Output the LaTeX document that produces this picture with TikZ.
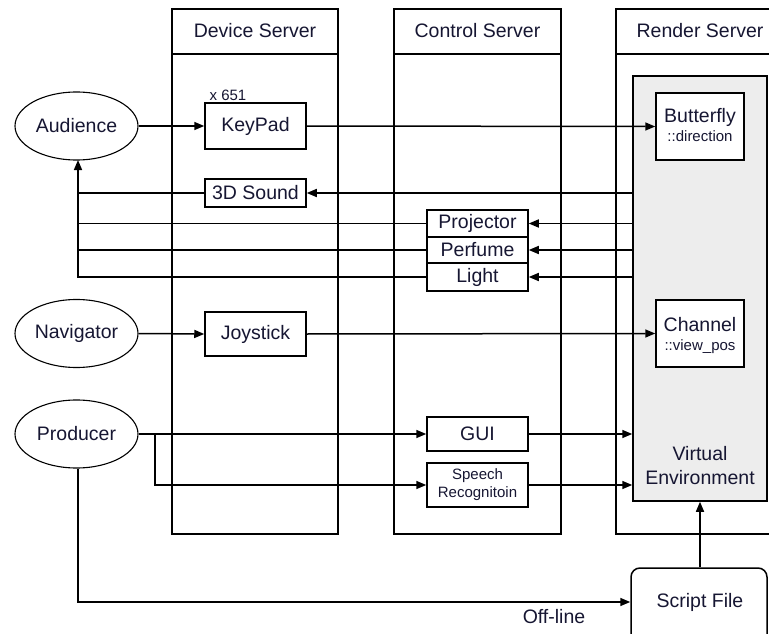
\documentclass[tikz,border=0pt]{standalone}
\usepackage{fontspec}
\setmainfont{Liberation Sans}
\usetikzlibrary{arrows.meta,shapes.geometric}
\definecolor{ink}{RGB}{22,22,50}
\definecolor{vefill}{RGB}{237,237,237}
\tikzset{
  base/.style={font=\fontsize{19.5}{24}\selectfont, text=ink, inner sep=0pt},
  small/.style={font=\fontsize{15}{18}\selectfont, text=ink, inner sep=0pt},
  box/.style={draw, line width=1.5pt, fill=white, base},
  actor/.style={draw, ellipse, line width=1.1pt, base, minimum width=123pt, minimum height=68pt},
  colframe/.style={draw, line width=1.5pt},
  link/.style={line width=1.5pt},
  arr/.style={link, -{Triangle[length=10pt,width=8pt]}},
}
\begin{document}
\begin{tikzpicture}[x=1pt,y=-1pt]
\useasboundingbox (0,0) rectangle (769,634);
\begin{scope}
\clip (0,0) rectangle (769,634);

% server columns with headers
\draw[colframe] (172,9) rectangle (338,534);
\draw[colframe] (172,54) -- (338,54);
\node[base] (devhdr) at (255,31) {Device Server};
\draw[colframe] (394,9) rectangle (561,534);
\draw[colframe] (394,54) -- (561,54);
\node[base] (ctlhdr) at (477.5,31) {Control Server};
\draw[colframe] (616,9) rectangle (784,534);
\draw[colframe] (616,54) -- (784,54);
\node[base] (renhdr) at (700,31) {Render Server};

% virtual environment region
\node[draw, line width=1.5pt, fill=vefill, minimum width=134pt, minimum height=425pt, inner sep=0pt] (ve) at (700,288.5) {};
\node[base, align=center] (velbl) at (700,466) {Virtual\\Environment};
\node[box, minimum width=88pt, minimum height=67pt] (bfly) at (700,126.5) {};
\node[base] (bflyt) at (700,117) {Butterfly};
\node[small] (bflys) at (700,136) {::direction};
\node[box, minimum width=88pt, minimum height=67pt] (chan) at (700,333.5) {};
\node[base] (chant) at (700,325) {Channel};
\node[small] (chans) at (700,347) {::view\_pos};

% script file
\node[draw, line width=1.5pt, rounded corners=9pt, fill=white, minimum width=136pt, minimum height=82pt, inner sep=0pt] (script) at (699,609) {};
\node[base] (scriptt) at (700,602) {Script File};
\end{scope}

% actors
\node[actor] (aud) at (76.5,126) {Audience};
\node[actor] (nav) at (76.5,333.5) {Navigator};
\node[actor] (prod) at (76.5,434) {Producer};

% device server
\node[box, minimum width=101pt, minimum height=46pt] (keypad) at (255.5,126) {KeyPad};
\node[small, anchor=base] (count) at (228,100) {x 651};
\node[box, minimum width=101pt, minimum height=28pt] (snd) at (255.5,193) {3D Sound};
\node[box, minimum width=101pt, minimum height=44pt] (joy) at (255.5,334) {Joystick};

% control server
\node[box, minimum width=101pt, minimum height=27pt] (proj) at (477.5,223.5) {Projector};
\node[box, minimum width=101pt, minimum height=26pt] (perf) at (477.5,250) {Perfume};
\node[box, minimum width=101pt, minimum height=28pt] (light) at (477.5,277) {Light};
\node[box, minimum width=101pt, minimum height=34pt] (gui) at (477.5,434) {GUI};
\node[box, minimum width=101pt, minimum height=44pt, font=\fontsize{15}{18}\selectfont, align=center] (speech) at (477.5,485) {Speech\\Recognitoin};

% audience input
\draw[arr] (aud.east) -- (keypad.west);
\draw[arr] (keypad.east) -- (bfly.west);

% outputs back to the audience
\draw[arr] (ve.west |- snd) -- (snd.east);
\draw[arr] (ve.west |- proj) -- (proj.east);
\draw[arr] (ve.west |- perf) -- (perf.east);
\draw[arr] (ve.west |- light) -- (light.east);
\coordinate (ret) at (78,160);
\draw[link] (snd.west) -- (ret |- snd);
\draw[link] (proj.west) -- (ret |- proj);
\draw[link] (perf.west) -- (ret |- perf);
\draw[arr] (light.west) -- (ret |- light) -- (ret);

% navigator input
\draw[arr] (nav.east) -- (joy.west);
\draw[arr] (joy.east) -- (chan.west);

% producer input
\coordinate (split) at (155,434);
\draw[arr] (prod.east) -- (gui.west);
\draw[arr] (split) -- (split |- speech) -- (speech.west);
\draw[arr] (gui.east) -- (ve.west |- gui);
\draw[arr] (speech.east) -- (ve.west |- speech);
\coordinate (down) at (78,602);
\draw[arr] (prod.south -| down) -- (down) -- (script.west |- down);
\node[base] (offline) at (554,617) {Off-line};
\draw[arr] (script.north -| velbl) -- (ve.south -| velbl);
\end{tikzpicture}
\end{document}
